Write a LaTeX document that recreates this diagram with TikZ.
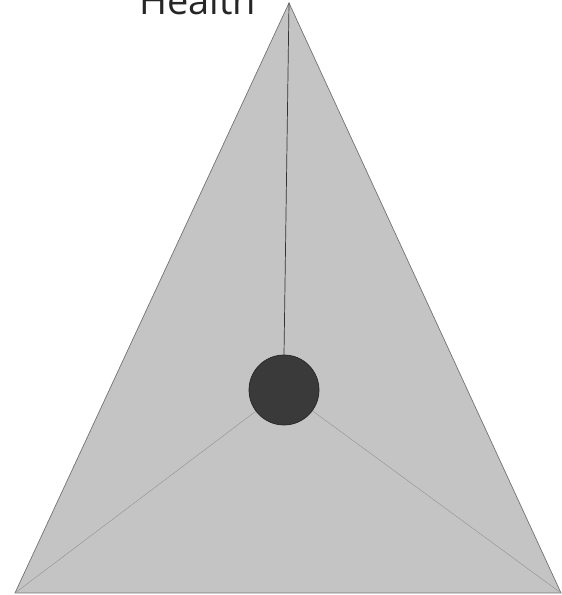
\documentclass[tikz,border=0pt]{standalone}
\usepackage{fontspec}
\setmainfont{Open Sans}
\usetikzlibrary{calc,positioning}
\definecolor{facegray}{HTML}{C4C4C4}
\definecolor{balldark}{HTML}{3A3A3A}
\tikzset{
  face/.style={fill=facegray,draw=black!55,thin},
  stem/.style={black!80,thin},
  spoke/.style={black!45,very thin},
  ball/.style={circle,fill=balldark,draw=black!85,minimum size=1.4cm,inner sep=0pt},
  corner/.style={font=\fontsize{21.6}{24}\selectfont,text=black!85}
}

\begin{document}
\begin{tikzpicture}
  \useasboundingbox (0,0) rectangle (11.22,11.9);
  \coordinate (top) at (5.78,11.84);
  \coordinate (left) at (0.30,0.04);
  \coordinate (right) at (11.22,0.04);
  \draw[face] (top) -- (left) -- (right) -- cycle;
  \node[ball] (state) at (5.68,4.10) {};
  \draw[spoke] (state) -- (left);
  \draw[spoke] (state) -- (right);
  \draw[stem] (top) -- (state.north);
  \node[corner,anchor=base] (health) at (3.95,11.6) {Health};
\end{tikzpicture}
\end{document}
